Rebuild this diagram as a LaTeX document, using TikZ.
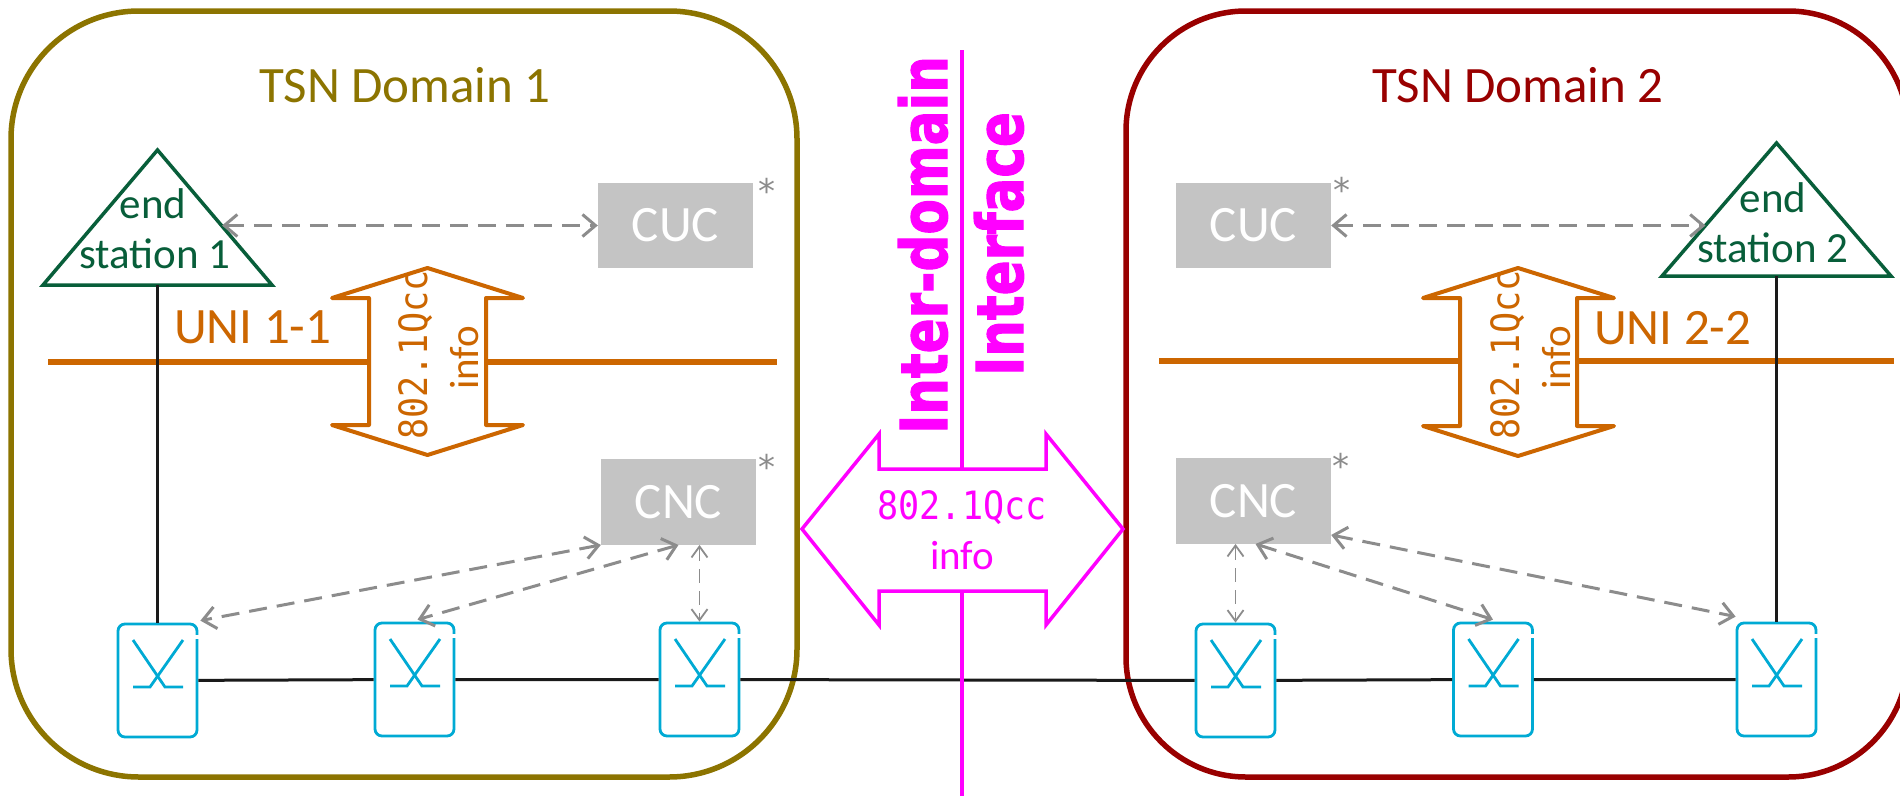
\documentclass[tikz,border=0pt]{standalone}
\usepackage{fontspec}
\setmainfont{Carlito}
\newfontfamily\monof[FakeStretch=0.9]{DejaVu Sans Mono}
\newfontfamily\idf[FakeStretch=0.8,FakeBold=1.6]{DejaVu Sans Bold}
\newfontfamily\astf{DejaVu Sans}
\usetikzlibrary{arrows.meta}

\definecolor{olivec}{RGB}{140,116,0}
\definecolor{darkredc}{RGB}{153,0,0}
\definecolor{greenc}{RGB}{8,94,58}
\definecolor{orangec}{RGB}{204,102,0}
\definecolor{magc}{RGB}{255,0,255}
\definecolor{boxgray}{RGB}{196,196,196}
\definecolor{arrgray}{RGB}{140,140,140}
\definecolor{swblue}{RGB}{0,170,212}
\definecolor{linek}{RGB}{26,26,26}

\newcommand\fsTitle{\fontsize{51}{60}\selectfont}
\newcommand\fsES{\fontsize{43}{50}\selectfont}
\newcommand\fsMono{\monof\fontsize{39}{46}\selectfont}
\newcommand\fsInfo{\fontsize{41}{48}\selectfont}
\newcommand\fsID{\idf\fontsize{64.5}{75}\selectfont}
\newcommand\fsAst{\astf\fontsize{34}{40}\selectfont}

\begin{document}
\begin{tikzpicture}[x=1pt,y=-1pt,
  domainbox/.style={draw, line width=5.5pt, inner sep=0pt},
  plaintext/.style={inner sep=0pt, outer sep=0pt},
  graybox/.style={fill=boxgray, text=white, minimum width=155pt, minimum height=85.5pt, inner sep=0pt, font=\fsTitle},
  asteriskmark/.style={plaintext, text=arrgray, font=\fsAst, anchor=base},
  switchbox/.style={draw=swblue, line width=2.8pt, rounded corners=7pt, fill=white, minimum width=79pt, minimum height=113pt, inner sep=0pt},
  swicon/.style={draw=swblue, line width=2.8pt},
  esline/.style={draw=greenc, line width=3.5pt, fill=white, line join=miter},
  estext/.style={plaintext, text=greenc, font=\fsES, anchor=base},
  kline/.style={draw=linek, line width=3pt},
  uniline/.style={draw=orangec, line width=5.3pt},
  oarrow/.style={draw=orangec, fill=white, line width=4pt, line join=round},
  marrow/.style={draw=magc, fill=white, line width=3.5pt},
  mline/.style={draw=magc, line width=4.5pt},
  dasharr/.style={draw=arrgray, line width=3pt, dash pattern=on 18pt off 10pt,
     {Straight Barb[length=13pt,width=22pt]}-{Straight Barb[length=13pt,width=22pt]}},
  thindash/.style={draw=arrgray, line width=1.8pt, dash pattern=on 14pt off 8pt,
     {Straight Barb[length=11pt,width=16pt]}-{Straight Barb[length=11pt,width=16pt]}}
]
\useasboundingbox (0,0) rectangle (1900,795);
\clip (0,0) rectangle (1900,795);
\fill[white] (0,0) rectangle (1900,795);

% domains
\node[domainbox, draw=olivec, rounded corners=128pt, minimum width=786pt, minimum height=766pt] (d1) at (404,394) {};
\node[domainbox, draw=darkredc, rounded corners=120pt, minimum width=782pt, minimum height=766pt] (d2) at (1517,394) {};
\node[plaintext, text=olivec, font=\fsTitle, anchor=base] (t1) at (405,102) {TSN Domain 1};
\node[plaintext, text=darkredc, font=\fsTitle, anchor=base] (t2) at (1518,102) {TSN Domain 2};

% UNI lines
\coordinate (u1a) at (48,362);
\coordinate (u1b) at (777,362);
\coordinate (u2a) at (1159,361);
\coordinate (u2b) at (1894,361);
\draw[uniline] (u1a) -- (u1b);
\draw[uniline] (u2a) -- (u2b);
\node[plaintext, text=orangec, font=\fsTitle, anchor=base west] (uni1) at (174,343) {UNI 1-1};
\node[plaintext, text=orangec, font=\fsTitle, anchor=base west] (uni2) at (1594,344) {UNI 2-2};

% switches
\node[switchbox] (s1) at (157.5,680.5) {};
\node[switchbox] (s2) at (414.5,679.5) {};
\node[switchbox] (s3) at (699.5,679.5) {};
\node[switchbox] (s4) at (1235.5,680.5) {};
\node[switchbox] (s5) at (1493,679.5) {};
\node[switchbox] (s6) at (1776.5,679.5) {};
\foreach \s in {s1,s2,s3,s4,s5,s6} {
  \begin{scope}[shift={(\s.center)}]
    \fill[white] (37,-46) rectangle (42,-41.5);
    \draw[swicon] (-24.5,-40.5) -- (7.5,6.5) -- (25.5,6.5);
    \draw[swicon] (25.5,-40.5) -- (-7.5,6.5) -- (-24.5,6.5);
  \end{scope}
}

% end stations
\draw[esline] (157.5,150) -- (272,285) -- (43,285) -- cycle;
\draw[esline] (1776.5,143) -- (1891,276) -- (1662,276) -- cycle;
\coordinate (es1base) at (157.5,285);
\coordinate (es2base) at (1776.5,276);
\coordinate (es1r) at (222,225.5);
\coordinate (es2l) at (1705.5,225.5);
\node[estext] (es1a) at (153,218) {end};
\node[estext] (es1b) at (155,268) {station 1};
\node[estext] (es2a) at (1773,212) {end};
\node[estext] (es2b) at (1773,262) {station 2};

% black links
\draw[kline] (es1base) -- (s1.north);
\draw[kline] (es2base) -- (s6.north);
\draw[kline] (s1) -- (s2) -- (s3) -- (s4) -- (s5) -- (s6);

% inter-domain line and arrow
\coordinate (mtop) at (962,50);
\coordinate (mbot) at (962,800);
\draw[mline] (mtop) -- (mbot);
\draw[marrow] (802,529) -- (879,434) -- (879,469) -- (1046,469) -- (1046,434) -- (1123,529)
  -- (1046,625) -- (1046,591) -- (879,591) -- (879,625) -- cycle;
\node[plaintext, text=magc, font=\fsMono, anchor=base] (mq) at (962,519) {802.1Qcc};
\node[plaintext, text=magc, font=\fsInfo, anchor=base] (mi) at (962,569) {info};
\node[plaintext, text=magc, font=\fsID, rotate=90, anchor=base] (idd) at (947,245) {Inter-domain};
\node[plaintext, text=magc, font=\fsID, rotate=90, anchor=base] (idi) at (1023,244) {Interface};

% orange UNI arrows
\draw[oarrow] (427.5,268) -- (523,298) -- (486,298) -- (486,425) -- (523,425) -- (427.5,455)
  -- (332,425) -- (369,425) -- (369,298) -- (332,298) -- cycle;
\draw[oarrow] (1518,268) -- (1614,298) -- (1577,298) -- (1577,426) -- (1614,426) -- (1518,456)
  -- (1423,426) -- (1460,426) -- (1460,298) -- (1423,298) -- cycle;
\node[plaintext, text=orangec, font=\fsMono, rotate=90, anchor=base] (oq1) at (427,355) {802.1Qcc};
\node[plaintext, text=orangec, font=\fsInfo, rotate=90, anchor=base] (oi1) at (478,358) {info};
\node[plaintext, text=orangec, font=\fsMono, rotate=90, anchor=base] (oq2) at (1519,355) {802.1Qcc};
\node[plaintext, text=orangec, font=\fsInfo, rotate=90, anchor=base] (oi2) at (1570,358) {info};

% CUC / CNC
\node[graybox] (cuc1) at (675.5,225.5) {CUC};
\node[graybox] (cuc2) at (1253.5,225.5) {CUC};
\node[graybox] (cnc1) at (678.5,502) {CNC};
\node[graybox] (cnc2) at (1253.5,501) {CNC};
\node[asteriskmark] (a1) at (767,203) {*};
\node[asteriskmark] (a2) at (1342,202) {*};
\node[asteriskmark] (a3) at (767,479) {*};
\node[asteriskmark] (a4) at (1341,478) {*};

% dashed management arrows
\draw[dasharr] (es1r) -- (cuc1.west);
\draw[dasharr] (cuc2.east) -- (es2l);
\draw[dasharr] (cnc1.south west) -- ([xshift=2pt,yshift=2pt]s1.north east);
\draw[dasharr] (cnc1.south) -- ([xshift=3pt,yshift=2pt]s2.north);
\draw[thindash] (s3.north |- cnc1.south) -- (s3.north);
\draw[thindash] (s4.north |- cnc2.south) -- (s4.north);
\draw[dasharr] ([xshift=2pt]cnc2.south) -- ([yshift=2pt]s5.north);
\draw[dasharr] ([yshift=9pt]cnc2.south east) -- ([yshift=5pt]s6.north west);
\end{tikzpicture}
\end{document}
